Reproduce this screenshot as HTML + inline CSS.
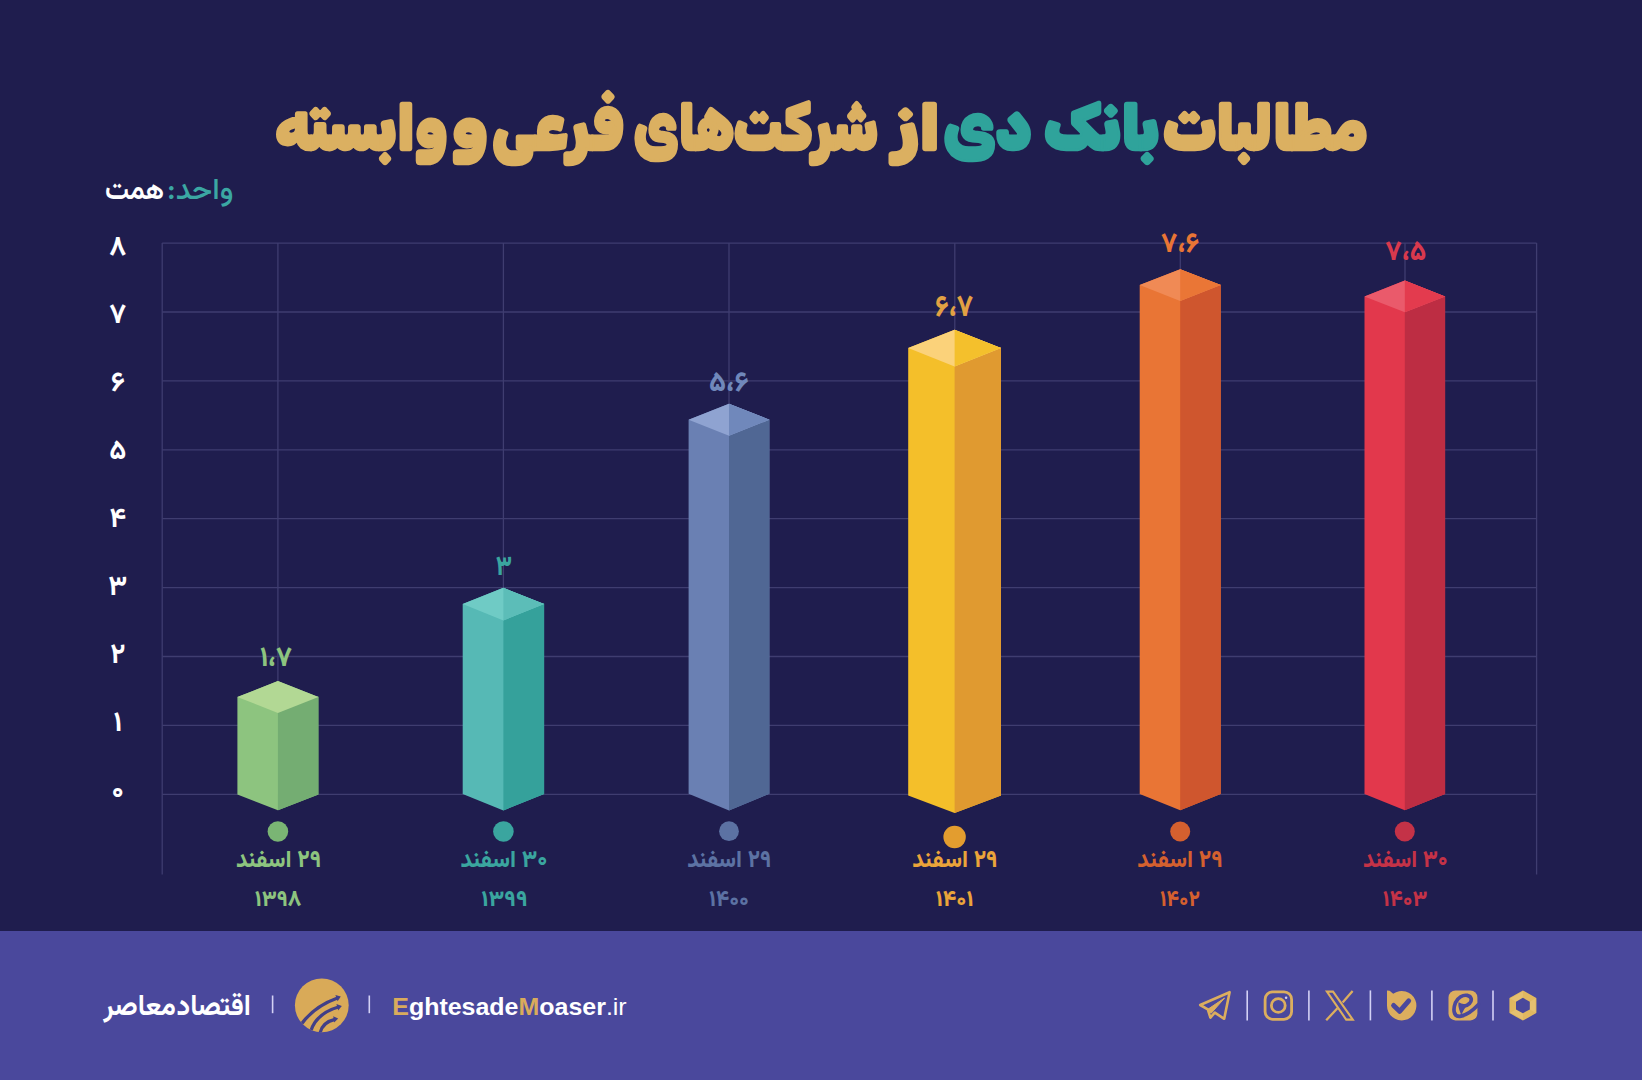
<!DOCTYPE html>
<html lang="fa" dir="rtl"><head><meta charset="utf-8"><title>مطالبات بانک دی از شرکت‌های فرعی و وابسته</title>
<style>html,body{margin:0;padding:0;background:#1f1d4e;overflow:hidden}svg{display:block}text{font-family:"Vazirmatn","DejaVu Sans",sans-serif;direction:rtl}.ttl{font-family:"Rubik","DejaVu Sans",sans-serif}.lat{font-family:"Liberation Sans",sans-serif;direction:ltr}</style></head><body>
<svg width="1642" height="1080" viewBox="0 0 1642 1080">
<rect width="1642" height="1080" fill="#1f1d4e"/>
<rect x="0" y="931" width="1642" height="149" fill="#4a489c"/>
<g stroke="#3f3d70" stroke-width="1.3" fill="none">
<line x1="162.2" y1="794.3" x2="1536.6" y2="794.3"/>
<line x1="162.2" y1="725.4" x2="1536.6" y2="725.4"/>
<line x1="162.2" y1="656.5" x2="1536.6" y2="656.5"/>
<line x1="162.2" y1="587.6" x2="1536.6" y2="587.6"/>
<line x1="162.2" y1="518.7" x2="1536.6" y2="518.7"/>
<line x1="162.2" y1="449.8" x2="1536.6" y2="449.8"/>
<line x1="162.2" y1="380.9" x2="1536.6" y2="380.9"/>
<line x1="162.2" y1="312.0" x2="1536.6" y2="312.0"/>
<line x1="162.2" y1="243.1" x2="1536.6" y2="243.1"/>
<line x1="162.2" y1="243.1" x2="162.2" y2="874.6"/>
<line x1="277.9" y1="243.1" x2="277.9" y2="794.3"/>
<line x1="503.4" y1="243.1" x2="503.4" y2="794.3"/>
<line x1="729.0" y1="243.1" x2="729.0" y2="794.3"/>
<line x1="954.8" y1="243.1" x2="954.8" y2="794.3"/>
<line x1="1180.3" y1="243.1" x2="1180.3" y2="794.3"/>
<line x1="1405.0" y1="243.1" x2="1405.0" y2="794.3"/>
<line x1="1536.6" y1="243.1" x2="1536.6" y2="874.6"/>
</g>
<polygon points="237.4,697.0 277.9,681.0 318.4,697.0 318.4,794.6 277.9,810.3 237.4,794.6" fill="#8dc47f"/>
<polygon points="277.9,697.0 318.4,696.5 318.4,794.6 277.9,810.3 277.9,697.0" fill="#74ad72"/>
<polygon points="277.9,681.0 318.4,697.0 277.9,713.0 237.4,697.0" fill="#b2d894"/>
<circle cx="277.9" cy="831.5" r="10.3" fill="#7ab574"/>
<polygon points="462.7,604.1 503.4,587.8 544.1,604.1 544.1,794.0 503.4,810.4 462.7,794.0" fill="#56b9b5"/>
<polygon points="503.4,604.1 544.1,603.6 544.1,794.0 503.4,810.4 503.4,604.1" fill="#35a19b"/>
<polygon points="503.4,587.8 544.1,604.1 503.4,620.4 462.7,604.1" fill="#6fcbc5"/>
<polygon points="503.4,587.8 544.1,604.1 503.4,620.4" fill="#5cbdb8"/>
<circle cx="503.4" cy="831.5" r="10.3" fill="#3aa59f"/>
<polygon points="688.6,419.7 729.0,403.7 769.4,419.7 769.4,793.8 729.0,810.4 688.6,793.8" fill="#6a80b3"/>
<polygon points="729.0,419.7 769.4,419.2 769.4,793.8 729.0,810.4 729.0,419.7" fill="#506794"/>
<polygon points="729.0,403.7 769.4,419.7 729.0,435.7 688.6,419.7" fill="#8fa3d1"/>
<polygon points="729.0,403.7 769.4,419.7 729.0,435.7" fill="#7088bb"/>
<circle cx="729.0" cy="831.2" r="9.9" fill="#5c72a3"/>
<polygon points="908.2,348.1 954.6,329.7 1001.0,348.1 1001.0,795.6 954.6,813.0 908.2,795.6" fill="#f4bf2a"/>
<polygon points="954.6,348.1 1001.0,347.6 1001.0,795.6 954.6,813.0 954.6,348.1" fill="#e09a30"/>
<polygon points="954.6,329.7 1001.0,348.1 954.6,366.5 908.2,348.1" fill="#fbd27a"/>
<polygon points="954.6,329.7 1001.0,348.1 954.6,366.5" fill="#f4c02c"/>
<circle cx="954.6" cy="837.0" r="11.2" fill="#e39d2f"/>
<polygon points="1139.7,285.1 1180.2,269.3 1220.7,285.1 1220.7,794.0 1180.2,810.2 1139.7,794.0" fill="#e97535"/>
<polygon points="1180.2,285.1 1220.7,284.6 1220.7,794.0 1180.2,810.2 1180.2,285.1" fill="#cf562e"/>
<polygon points="1180.2,269.3 1220.7,285.1 1180.2,300.9 1139.7,285.1" fill="#f08a55"/>
<polygon points="1180.2,269.3 1220.7,285.1 1180.2,300.9" fill="#ea7636"/>
<circle cx="1180.2" cy="831.5" r="10.0" fill="#d4602f"/>
<polygon points="1364.5,296.4 1404.8,280.5 1445.1,296.4 1445.1,794.0 1404.8,810.2 1364.5,794.0" fill="#e2384c"/>
<polygon points="1404.8,296.4 1445.1,295.9 1445.1,794.0 1404.8,810.2 1404.8,296.4" fill="#bd2d43"/>
<polygon points="1404.8,280.5 1445.1,296.4 1404.8,312.3 1364.5,296.4" fill="#ea5a6b"/>
<polygon points="1404.8,280.5 1445.1,296.4 1404.8,312.3" fill="#e33b4e"/>
<circle cx="1404.8" cy="831.5" r="10.0" fill="#c43247"/>
<text class="ttl" x="361.6" y="149.0" text-anchor="middle" font-size="61.5" font-weight="900" fill="#dbb061" stroke="#dbb061" stroke-width="2.6" stroke-linejoin="round" textLength="172.3" lengthAdjust="spacingAndGlyphs">وابسته</text>
<text class="ttl" x="470.0" y="149.0" text-anchor="middle" font-size="61.5" font-weight="900" fill="#dbb061" stroke="#dbb061" stroke-width="2.6" stroke-linejoin="round" textLength="35.7" lengthAdjust="spacingAndGlyphs">و</text>
<text class="ttl" x="558.3" y="149.0" text-anchor="middle" font-size="61.5" font-weight="900" fill="#dbb061" stroke="#dbb061" stroke-width="2.6" stroke-linejoin="round" textLength="131.4" lengthAdjust="spacingAndGlyphs">فرعی</text>
<text class="ttl" x="755.9" y="149.0" text-anchor="middle" font-size="61.5" font-weight="900" fill="#dbb061" stroke="#dbb061" stroke-width="2.6" stroke-linejoin="round" textLength="243.6" lengthAdjust="spacingAndGlyphs">شرکت‌های</text>
<text class="ttl" x="916.8" y="149.0" text-anchor="middle" font-size="61.5" font-weight="900" fill="#dbb061" stroke="#dbb061" stroke-width="2.6" stroke-linejoin="round" textLength="47.5" lengthAdjust="spacingAndGlyphs">از</text>
<text class="ttl" x="987.5" y="149.0" text-anchor="middle" font-size="61.5" font-weight="900" fill="#2fa39b" stroke="#2fa39b" stroke-width="2.6" stroke-linejoin="round" textLength="87.4" lengthAdjust="spacingAndGlyphs">دی</text>
<text class="ttl" x="1101.7" y="149.0" text-anchor="middle" font-size="61.5" font-weight="900" fill="#2fa39b" stroke="#2fa39b" stroke-width="2.6" stroke-linejoin="round" textLength="115.0" lengthAdjust="spacingAndGlyphs">بانک</text>
<text class="ttl" x="1265.7" y="149.0" text-anchor="middle" font-size="61.5" font-weight="900" fill="#dbb061" stroke="#dbb061" stroke-width="2.6" stroke-linejoin="round" textLength="204.9" lengthAdjust="spacingAndGlyphs">مطالبات</text>
<text class="u1" x="200.2" y="199.2" text-anchor="middle" font-size="30" font-weight="500" fill="#3ba7a3" textLength="66.3" lengthAdjust="spacingAndGlyphs">واحد:</text>
<text class="u2" x="134.5" y="199.2" text-anchor="middle" font-size="30" font-weight="600" fill="#ffffff" textLength="59.1" lengthAdjust="spacingAndGlyphs">همت</text>
<text class="ax" x="117.8" y="254.6" text-anchor="middle" font-size="28" font-weight="700" fill="#ffffff">۸</text>
<text class="ax" x="117.8" y="322.6" text-anchor="middle" font-size="28" font-weight="700" fill="#ffffff">۷</text>
<text class="ax" x="117.8" y="390.6" text-anchor="middle" font-size="28" font-weight="700" fill="#ffffff">۶</text>
<text class="ax" x="117.8" y="458.6" text-anchor="middle" font-size="28" font-weight="700" fill="#ffffff">۵</text>
<text class="ax" x="117.8" y="526.6" text-anchor="middle" font-size="28" font-weight="700" fill="#ffffff">۴</text>
<text class="ax" x="117.8" y="594.6" text-anchor="middle" font-size="28" font-weight="700" fill="#ffffff">۳</text>
<text class="ax" x="117.8" y="662.6" text-anchor="middle" font-size="28" font-weight="700" fill="#ffffff">۲</text>
<text class="ax" x="117.8" y="730.6" text-anchor="middle" font-size="28" font-weight="700" fill="#ffffff">۱</text>
<text class="ax" x="117.8" y="798.6" text-anchor="middle" font-size="28" font-weight="700" fill="#ffffff">۰</text>
<text class="val" x="276.0" y="665.8" text-anchor="middle" font-size="28" font-weight="800" fill="#8dc47f" textLength="32.2" lengthAdjust="spacingAndGlyphs">۱،۷</text>
<text class="val" x="503.8" y="574.9" text-anchor="middle" font-size="28" font-weight="800" fill="#3aa59f" textLength="16.3" lengthAdjust="spacingAndGlyphs">۳</text>
<text class="val" x="728.8" y="391.0" text-anchor="middle" font-size="28" font-weight="800" fill="#7088bb" textLength="39.6" lengthAdjust="spacingAndGlyphs">۵،۶</text>
<text class="val" x="954.1" y="316.1" text-anchor="middle" font-size="30.5" font-weight="800" fill="#e2a143" textLength="38.2" lengthAdjust="spacingAndGlyphs">۶،۷</text>
<text class="val" x="1180.2" y="252.4" text-anchor="middle" font-size="28" font-weight="800" fill="#e97535" textLength="38.2" lengthAdjust="spacingAndGlyphs">۷،۶</text>
<text class="val" x="1405.8" y="259.6" text-anchor="middle" font-size="28" font-weight="800" fill="#d8394d" textLength="41.2" lengthAdjust="spacingAndGlyphs">۷،۵</text>
<text class="dl" x="278.6" y="866.7" text-anchor="middle" font-size="24" font-weight="800" fill="#8dc47f" textLength="85.3" lengthAdjust="spacingAndGlyphs">۲۹ اسفند</text>
<text class="dl" x="278.1" y="905.6" text-anchor="middle" font-size="22.5" font-weight="800" fill="#8dc47f" textLength="46.6" lengthAdjust="spacingAndGlyphs">۱۳۹۸</text>
<text class="dl" x="503.9" y="866.7" text-anchor="middle" font-size="24" font-weight="800" fill="#3aa59f" textLength="87.0" lengthAdjust="spacingAndGlyphs">۳۰ اسفند</text>
<text class="dl" x="504.4" y="905.6" text-anchor="middle" font-size="22.5" font-weight="800" fill="#3aa59f" textLength="46.4" lengthAdjust="spacingAndGlyphs">۱۳۹۹</text>
<text class="dl" x="729.2" y="866.7" text-anchor="middle" font-size="24" font-weight="800" fill="#5c72a3" textLength="84.1" lengthAdjust="spacingAndGlyphs">۲۹ اسفند</text>
<text class="dl" x="729.0" y="905.6" text-anchor="middle" font-size="22.5" font-weight="800" fill="#5c72a3" textLength="39.9" lengthAdjust="spacingAndGlyphs">۱۴۰۰</text>
<text class="dl" x="954.9" y="866.7" text-anchor="middle" font-size="24" font-weight="800" fill="#eaa43a" textLength="85.4" lengthAdjust="spacingAndGlyphs">۲۹ اسفند</text>
<text class="dl" x="954.6" y="905.6" text-anchor="middle" font-size="22.5" font-weight="800" fill="#eaa43a" textLength="37.8" lengthAdjust="spacingAndGlyphs">۱۴۰۱</text>
<text class="dl" x="1180.0" y="866.7" text-anchor="middle" font-size="24" font-weight="800" fill="#d4602f" textLength="85.4" lengthAdjust="spacingAndGlyphs">۲۹ اسفند</text>
<text class="dl" x="1180.0" y="905.6" text-anchor="middle" font-size="22.5" font-weight="800" fill="#d4602f" textLength="40.0" lengthAdjust="spacingAndGlyphs">۱۴۰۲</text>
<text class="dl" x="1405.3" y="866.7" text-anchor="middle" font-size="24" font-weight="800" fill="#c43247" textLength="84.8" lengthAdjust="spacingAndGlyphs">۳۰ اسفند</text>
<text class="dl" x="1405.1" y="905.6" text-anchor="middle" font-size="22.5" font-weight="800" fill="#c43247" textLength="44.5" lengthAdjust="spacingAndGlyphs">۱۴۰۳</text>
<text class="ft" x="139.7" y="1015.2" text-anchor="middle" font-size="29" font-weight="700" fill="#ffffff" textLength="72.3" lengthAdjust="spacingAndGlyphs">معاصر</text>
<text class="ft" x="213.7" y="1015.2" text-anchor="middle" font-size="29" font-weight="700" fill="#ffffff" textLength="74.4" lengthAdjust="spacingAndGlyphs">اقتصاد</text>
<line x1="272.6" y1="995.5" x2="272.6" y2="1013.2" stroke="#d3d1f5" stroke-width="1.6"/>
<line x1="369.3" y1="995.5" x2="369.3" y2="1013.2" stroke="#d3d1f5" stroke-width="1.6"/>
<defs><clipPath id="lc"><circle cx="321.8" cy="1005.3" r="26.9"/></clipPath></defs>
<circle cx="321.8" cy="1005.3" r="26.9" fill="#d9aa58"/>
<g clip-path="url(#lc)" fill="none" stroke="#413f88" stroke-width="3.3" stroke-linecap="butt">
<path d="M301.5,1024 Q314,1006.5 337.5,998"/>
<path d="M311,1030.5 Q316.5,1013.5 338.5,1007"/>
<path d="M320,1033 Q322.5,1022 335,1019.3"/>
</g>
<g fill="#413f88">
<polygon points="340.8,996.5 335.4,995.0 337.6,1001.2"/>
<polygon points="341.8,1005.9 336.4,1004.1 338.2,1010.4"/>
<polygon points="338.2,1018.6 333.2,1016.2 334.2,1022.4"/>
</g>
<text class="lat" x="392.3" y="1015.2" font-size="24" font-weight="700" fill="#ffffff" textLength="234.4" lengthAdjust="spacingAndGlyphs" direction="ltr" text-anchor="start"><tspan fill="#d9ab5c">E</tspan>ghtesade<tspan fill="#d9ab5c">M</tspan>oaser<tspan font-weight="400">.ir</tspan></text>
<line x1="1247.2" y1="990.4" x2="1247.2" y2="1020.4" stroke="#d3d1f5" stroke-width="1.6"/>
<line x1="1308.9" y1="990.4" x2="1308.9" y2="1020.4" stroke="#d3d1f5" stroke-width="1.6"/>
<line x1="1370.4" y1="990.4" x2="1370.4" y2="1020.4" stroke="#d3d1f5" stroke-width="1.6"/>
<line x1="1431.9" y1="990.4" x2="1431.9" y2="1020.4" stroke="#d3d1f5" stroke-width="1.6"/>
<line x1="1493.0" y1="990.4" x2="1493.0" y2="1020.4" stroke="#d3d1f5" stroke-width="1.6"/>
<path d="M1200.2,1005 L1229.6,992.2 L1224.2,1018.8 L1214.8,1012.6 L1210.4,1017.6 L1207.8,1009.3 Z" fill="none" stroke="#dcae5e" stroke-width="2.6" stroke-linejoin="round" stroke-linecap="round"/>
<path d="M1207.8,1009.3 L1224.6,998 L1211.2,1013.2 Z" fill="#dcae5e" stroke="#dcae5e" stroke-width="1" stroke-linejoin="round"/>
<rect x="1265.1" y="991.8" width="26.5" height="27.5" rx="7.6" fill="none" stroke="#dcae5e" stroke-width="2.8"/>
<circle cx="1278.3" cy="1005.5" r="6.9" fill="none" stroke="#dcae5e" stroke-width="2.8"/>
<circle cx="1286.1" cy="997.8" r="1.25" fill="#d6d0ee"/>
<g fill="none" stroke="#dcae5e" stroke-linejoin="miter">
<path d="M1326.9,991.6 L1333.0,991.6 L1352.8,1019.6 L1346.2,1019.6 Z" stroke-width="2.1"/>
<path d="M1352.6,990.9 L1342.6,1002.4 M1337.4,1008.3 L1326.2,1020.3" stroke-width="2.3"/>
</g>
<path d="M1387,990.6 L1389.6,990.8 L1393.2,993.7 A14.7,14.7 0 1 1 1387,1005.6 Z" fill="#dcae5e"/>
<path d="M1393.6,1005.4 L1399.6,1011.3 L1408.7,1000.9" fill="none" stroke="#4a489c" stroke-width="4.9" stroke-linecap="round" stroke-linejoin="round"/>
<rect x="1448.5" y="990.4" width="28.9" height="30" rx="7" fill="#dcae5e"/>
<path d="M1478.5,1004.6 C1473,1010.5 1466,1015.6 1459.8,1016.4 C1453.6,1016.8 1452.8,1009.5 1455.4,1002.8 C1457.8,997.4 1463,994.6 1467.2,995.4 C1471.6,996.4 1472.4,1000.2 1469.6,1003.4 C1467.2,1005.8 1464,1006.4 1461.8,1006" fill="none" stroke="#4a489c" stroke-width="3.7" stroke-linecap="round"/>
<path d="M1458.6,1002.2 C1462.5,1004.4 1465.4,1003.8 1467.4,1005.6 C1464.2,1007.8 1463.4,1011.4 1461.2,1014.8 C1460,1011 1457.6,1007 1458.6,1002.2 Z" fill="#4a489c"/>
<polygon points="1522.9,991.5 1510.4,998.5 1510.4,1012.5 1522.9,1019.5 1535.4,1012.5 1535.4,998.5" fill="#e2b860" stroke="#e2b860" stroke-width="2" stroke-linejoin="round"/>
<polygon points="1522.9,991.5 1510.4,998.5 1516.0,1001.7 1522.9,997.8" fill="#e6c070"/>
<polygon points="1510.4,1012.5 1522.9,1019.5 1522.9,1013.2 1516.0,1009.4" fill="#e6c070"/>
<polygon points="1535.4,1012.5 1535.4,998.5 1529.8,1001.7 1529.8,1009.4" fill="#e6c070"/>
<polygon points="1522.9,997.8 1516.0,1001.7 1516.0,1009.4 1522.9,1013.2 1529.8,1009.4 1529.8,1001.7" fill="#4a489c"/>
</svg></body></html>
